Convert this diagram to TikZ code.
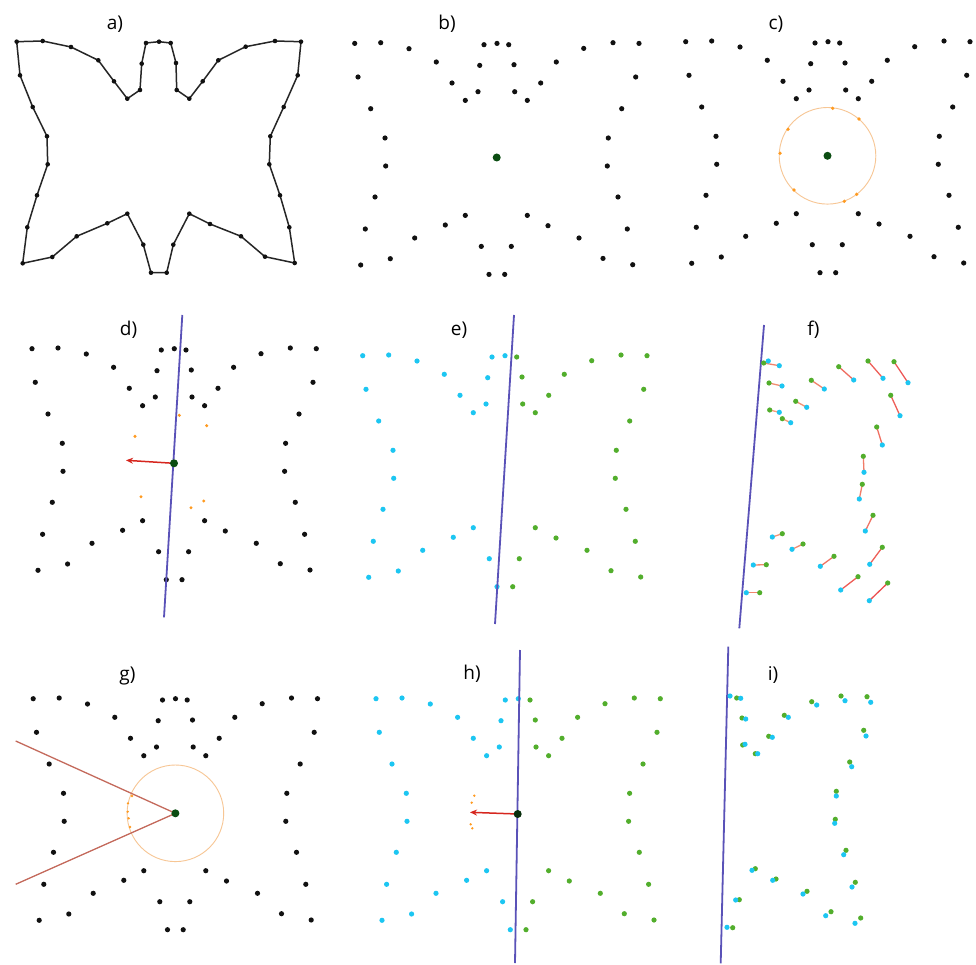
\documentclass[tikz,border=0pt]{standalone}
\usepackage{fontspec}
\setmainfont{Open Sans}
\usetikzlibrary{arrows.meta}
\definecolor{dotblack}{HTML}{111111}
\definecolor{cyandot}{HTML}{1CC6F2}
\definecolor{greendot}{HTML}{52AE2C}
\definecolor{linblue}{HTML}{5A52B8}
\definecolor{ctrgreen}{HTML}{0B4D12}
\definecolor{ctrdark}{HTML}{082E0C}
\definecolor{orangedot}{HTML}{FF9A1F}
\definecolor{circorange}{HTML}{F7C694}
\definecolor{arrred}{HTML}{D6261E}
\definecolor{rayred}{HTML}{C46A5C}
\definecolor{pairred}{HTML}{EC4F50}
\definecolor{pairsalmon}{HTML}{F5A27C}
% butterfly outline, panel a coordinates (px)
\def\LT{16.7/41.7, 42.7/41, 71/47, 98.3/60.3, 114/81.3, 127.3/98.7, 140/90, 141.7/63.7, 146/43, 159/41.7}
\def\RR{170.7/43, 176/63, 176.7/90, 189.3/98.7, 202.7/81.3, 218.3/60.3, 245.7/46.7, 275/41, 301/41.7, 297.7/75.3, 283.7/107, 270.3/136.3, 269.3/164.3, 280/195.3, 289.3/227.3, 294.7/263, 265/256.7, 241/236.3, 210/224, 189.3/213.7, 173.3/244.7, 166.7/272.7}
\def\LB{151/272.7, 143.3/244.7, 127.3/213.7, 107.3/223.3, 76.7/236.3, 52.3/257, 22.7/263.3, 27.3/227.3, 37/195.3, 47.7/164.3, 47/136.3, 32.7/107, 20/75.3}
% mirrored points in f and i (absolute px), in pair order
\def\FC{779.3/365.7, 782/386, 779.3/412.3, 790.7/422.7, 806.7/407.3, 824.3/389, 853.7/380, 883/378.3, 908/382.7, 900/415.7, 882.3/445, 864/472.3, 859.3/499, 865.3/531, 869.7/564.3, 869.3/600.7, 840.7/590, 820.3/566.3, 792/549.3, 772.3/537, 753.3/565, 746.3/592.7, 768.3/361}
\def\IC{740.7/698.3, 745.7/719, 745/744.3, 757.7/753.7, 772.3/737.3, 788.3/717.3, 816.7/705, 845/700.7, 870.7/702.3, 866/736, 851.7/766.7, 836.3/796, 834.7/823.3, 843.7/854.7, 852/887, 855/923.3, 825.7/915.7, 803/894, 772.7/880.3, 752/870.3, 735.7/900, 727/927.3, 730/696}
\newcommand\ptset[4]{\foreach \x/\y in #1 {\fill[#4] (\x+#2,\y+#3) circle[radius=2.6pt];}}
\begin{document}
\begin{tikzpicture}[x=1pt,y=-1pt,
  lbl/.style={font=\fontsize{19}{22}\selectfont, inner sep=0pt, text=black},
  blk/.style={fill=dotblack},
  cy/.style={fill=cyandot},
  gr/.style={fill=greendot},
  sepline/.style={draw=linblue, line width=1.8pt},
  ctr/.style={fill=ctrgreen},
  ctrd/.style={fill=ctrdark},
  odot/.style={fill=orangedot},
  ring/.style={draw=circorange, line width=0.9pt},
  push/.style={draw=arrred, line width=1.5pt, -{Stealth[length=7pt,width=6pt]}},
  ray/.style={draw=rayred, line width=1.3pt},
  pairline/.style={line width=1.3pt}
  ]
\useasboundingbox[fill=white] (0,0) rectangle (976,965);

% ---------- a) ----------
\foreach \x/\y [count=\i from 1] in \LT {\coordinate (a\i) at (\x,\y);}
\foreach \x/\y [count=\i from 11] in \RR {\coordinate (a\i) at (\x,\y);}
\foreach \x/\y [count=\i from 33] in \LB {\coordinate (a\i) at (\x,\y);}
\draw[line width=1.5pt, draw=black!85, line join=round] (a1) \foreach \i in {2,...,45}{ -- (a\i)} -- cycle;
\foreach \i in {1,...,45} \fill[blk] (a\i) circle[radius=2.3pt];
\node[lbl] (la) at (115,24) {a)};

% ---------- b) ----------
\ptset{\LT}{338}{1.7}{blk}\ptset{\RR}{338}{1.7}{blk}\ptset{\LB}{338}{1.7}{blk}
\coordinate (bctr) at (496.7,157.5);
\fill[ctr] (bctr) circle[radius=4pt];
\node[lbl] (lb) at (447,24) {b)};

% ---------- c) ----------
\ptset{\LT}{669}{0}{blk}\ptset{\RR}{669}{0}{blk}\ptset{\LB}{669}{0}{blk}
\coordinate (cctr) at (827.5,155.8);
\draw[ring] (cctr) circle[radius=48.3pt];
\foreach \x/\y in {832.7/108.3, 859/119, 788/129.3, 780/153.3, 794/190, 844.3/201.3, 856.7/194.3}
  \fill[odot] (\x,\y) circle[radius=1.8pt];
\fill[ctr] (cctr) circle[radius=4pt];
\node[lbl] (lc) at (776,24) {c)};

% ---------- d) ----------
\ptset{\LT}{15.3}{307}{blk}\ptset{\RR}{15.3}{307}{blk}\ptset{\LB}{15.3}{307}{blk}
\coordinate (dtop) at (182.3,315);
\coordinate (dbot) at (164,617.3);
\coordinate (dctr) at (174,463.3);
\coordinate (dtip) at (126,460.3);
\draw[sepline] (dtop) -- (dbot);
\foreach \x/\y in {179.3/415.3, 206.7/425.7, 135/436.3, 141/496.7, 203.7/501, 191/507.7}
  \fill[odot] (\x,\y) circle[radius=1.7pt];
\draw[push] (dctr) -- (dtip);
\fill[ctr] (dctr) circle[radius=4pt];
\node[lbl] (ld) at (128.5,330) {d)};

% ---------- e) ----------
\ptset{\LT}{346}{314}{cy}\ptset{\LB}{346}{314}{cy}\ptset{\RR}{346}{314}{gr}
\coordinate (etop) at (514,315);
\coordinate (ebot) at (495,624);
\draw[sepline] (etop) -- (ebot);
\node[lbl] (le) at (459,330) {e)};

% ---------- f) ----------
\foreach \x/\y [count=\i] in \RR {\coordinate (fg\i) at (\x+593,\y+320);}
\foreach \x/\y [count=\i] in \FC {\coordinate (fc\i) at (\x,\y);}
\coordinate (ftop) at (764,325);
\coordinate (fbot) at (739.3,628.3);
\draw[sepline] (ftop) -- (fbot);
\foreach \i/\p in {1/39, 2/25, 3/5, 4/4, 5/22, 6/39, 7/65, 8/81, 9/94, 10/81, 11/61, 12/47, 13/43, 14/58, 15/78, 16/100, 17/83, 18/56, 19/29, 20/20, 21/33, 22/36}
  \draw[pairline, draw=pairred!\p!pairsalmon] (fg\i) -- (fc\i);
\foreach \i in {1,...,22} \fill[gr] (fg\i) circle[radius=2.6pt];
\foreach \i in {1,...,23} \fill[cy] (fc\i) circle[radius=2.6pt];
\node[lbl] (lf) at (813.5,330) {f)};

% ---------- g) ----------
\ptset{\LT}{16.5}{657}{blk}\ptset{\RR}{16.5}{657}{blk}\ptset{\LB}{16.5}{657}{blk}
\coordinate (gctr) at (175.4,813.3);
\coordinate (gup) at (15.7,741);
\coordinate (glo) at (15.7,884.3);
\draw[ring] (gctr) circle[radius=48.3pt];
\draw[ray] (gup) -- (gctr) -- (glo);
\foreach \x/\y in {132/796, 128/803.3, 127.7/811.7, 128.7/818.3, 130/827}
  \fill[odot] (\x,\y) circle[radius=1.3pt];
\fill[ctr] (gctr) circle[radius=4pt];
\node[lbl] (lg) at (127.5,675.5) {g)};

% ---------- h) ----------
\ptset{\LT}{359.3}{657}{cy}\ptset{\LB}{359.3}{657}{cy}\ptset{\RR}{359.3}{657}{gr}
\coordinate (htop) at (520,650);
\coordinate (hbot) at (515,963);
\coordinate (hctr) at (517.7,814);
\coordinate (htip) at (470,812.3);
\draw[sepline] (htop) -- (hbot);
\foreach \x/\y in {474.3/795.7, 471.7/802.7, 470.7/824.3, 472.3/828.3}
  \fill[odot] (\x,\y) circle[radius=1.3pt];
\draw[push] (hctr) -- (htip);
\fill[ctrd] (hctr) circle[radius=4pt];
\node[lbl] (lh) at (472,673.5) {h)};

% ---------- i) ----------
\coordinate (itop) at (728.3,646.7);
\coordinate (ibot) at (720.7,963.3);
\draw[sepline] (itop) -- (ibot);
\ptset{\RR}{566}{655}{gr}
\foreach \x/\y in \IC \fill[cy] (\x,\y) circle[radius=2.6pt];
\node[lbl] (li) at (773,675) {i)};
\end{tikzpicture}
\end{document}
